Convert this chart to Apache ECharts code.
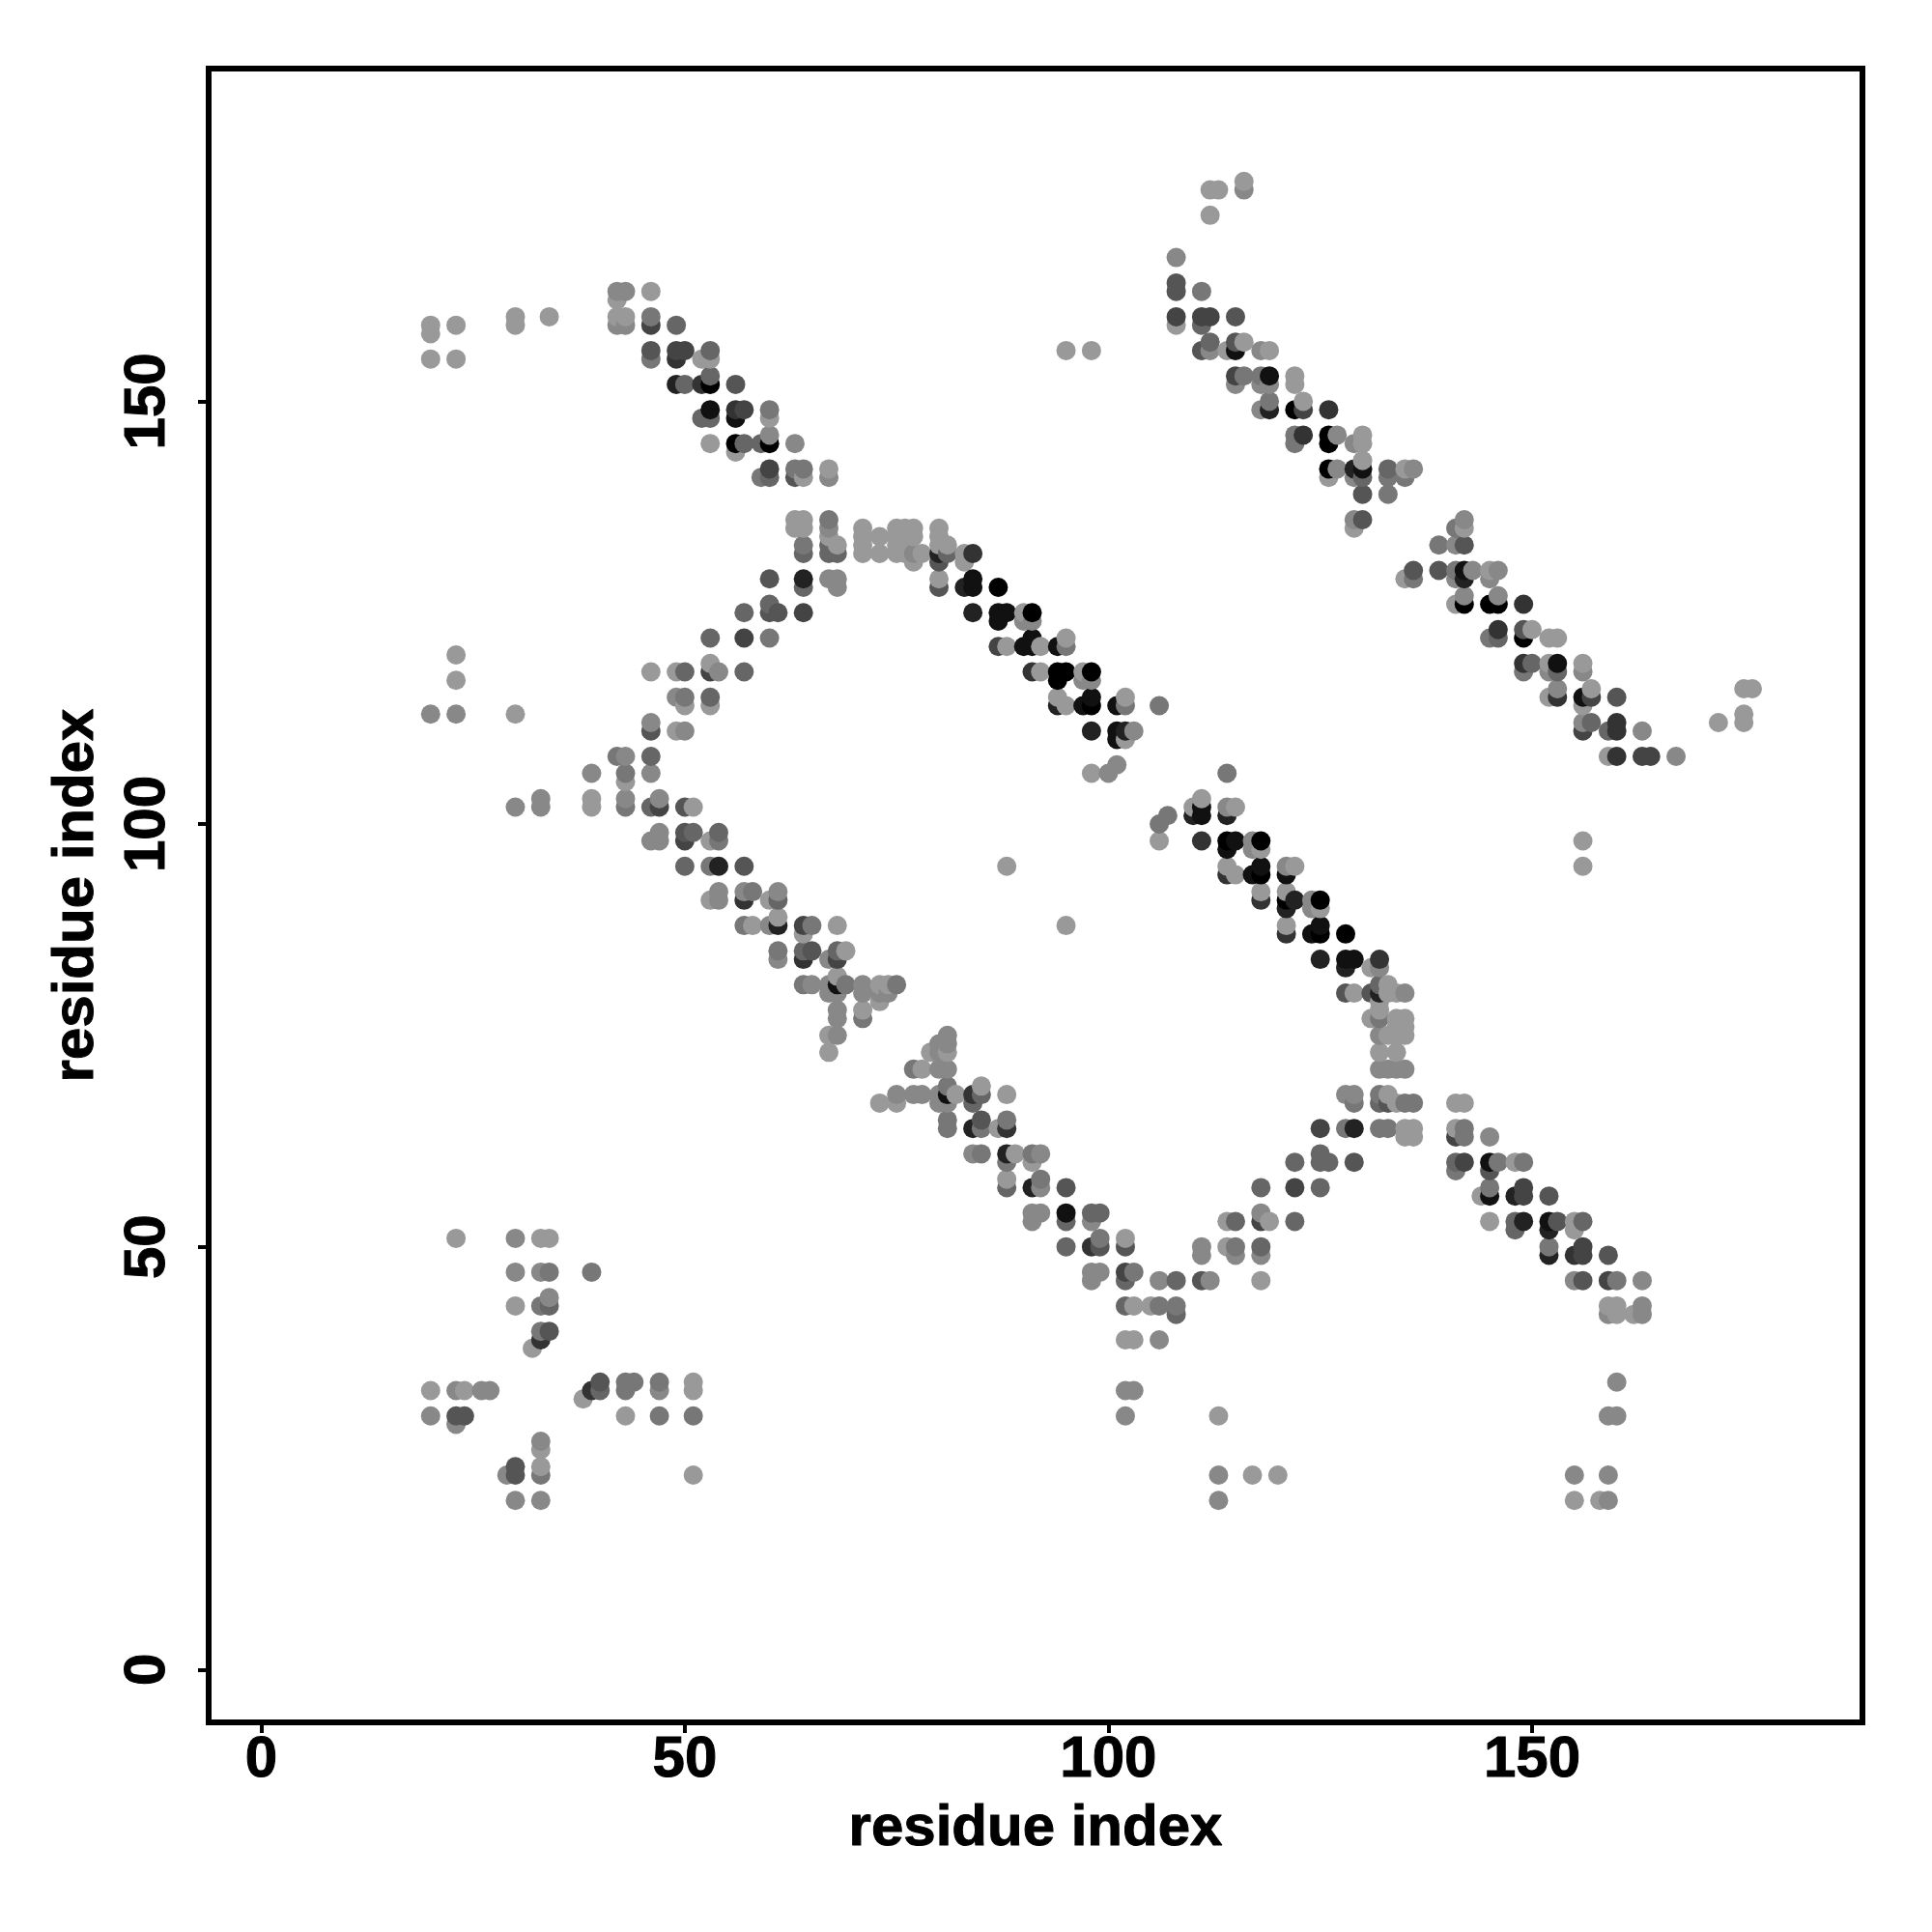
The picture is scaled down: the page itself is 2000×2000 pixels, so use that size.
<!DOCTYPE html>
<html>
<head>
<meta charset="utf-8">
<style>html,body{margin:0;padding:0;background:#fff}#c{width:2000px;height:2000px}</style>
<script src="https://cdn.jsdelivr.net/npm/echarts@6/dist/echarts.min.js"></script>
</head>
<body>
<div id="c"></div>
<script>
// Each contact: [residue x, residue y, strength 0 (faint) .. 9 (strong)]
const axisTitle = 'residue index';
const tickValues = [0, 50, 100, 150];

const farCornerContacts = [
[20,159,0],[20,158,0],[23,159,0],[30,160,0],[30,159,0],[34,160,0],[20,155,0],[23,155,0],
[95,156,0],[98,156,0],[88,95,0],[95,88,0],[156,98,0],[156,95,0],
[172,112,0],[175,113,0],[175,112,0],[175,116,0],[176,116,0],
[23,120,0],[23,117,0],[20,113,1],[23,113,1],[30,113,0],[30,102,1],[33,103,1],[33,102,1],[106,114,2]
];
const upperLeftBand = [
[42,163,1],[43,163,1],[42,162,0],[46,163,0],[42,160,0],[43,160,0],[42,159,1],[43,159,1],[46,160,2],[46,159,5],[49,159,3],
[46,156,4],[46,155,2],[49,156,5],[49,155,6],[50,156,5],[52,155,0],[53,156,3],[53,155,0],
[49,152,7],[50,152,3],[52,152,6],[53,153,3],[53,152,9],[56,152,4],
[53,149,8],[53,148,3],[52,148,3],[56,149,6],[56,148,8],[57,149,5],[60,149,2],[60,148,0],
[53,145,0],[56,145,9],[56,144,0],[57,145,3],[59,145,3],[60,146,1],[60,145,9],[63,145,1],
[59,141,2],[60,142,5],[60,141,3],[63,142,2],[63,141,4],[64,142,2],[64,141,0],[67,142,0],[67,141,1]
];
const midUpperBand = [
[63,136,0],[64,136,0],[63,135,0],[64,135,0],[64,133,2],[64,132,3],
[67,136,2],[67,135,1],[67,134,0],[67,133,3],[67,132,3],[68,133,0],[68,132,3],
[71,135,0],[71,134,0],[71,133,0],[71,132,0],[73,134,0],[73,132,0],
[75,135,0],[76,135,0],[77,135,0],[75,134,0],[76,134,0],[77,134,0],[75,133,0],[75,132,0],[76,132,0],[77,132,1],[77,131,0],[78,132,0],
[80,135,0],[80,134,0],[80,133,0],[80,132,7],[80,131,4],[80,129,0],[80,128,4],[81,133,0],[81,132,3],
[83,132,0],[83,131,0],[83,128,7],[84,132,6],[84,129,8],[84,128,8],[84,125,7],
[87,128,9],[87,125,8],[87,124,8],[87,121,5],[88,125,8],[88,121,0],
[90,125,0],[90,124,1],[90,121,8],[91,125,9],[91,124,1],[91,122,8],[91,121,8],[91,118,6],[92,121,0],[92,118,0],
[94,121,8],[94,118,9],[94,117,9],[94,115,0],[94,114,7],[95,122,0],[95,121,2],[95,118,9],[95,114,0],
[97,118,0],[97,117,1],[97,114,8],[98,118,9],[98,117,1],[98,115,8],[98,114,9],[98,111,7],[98,106,0],
[101,114,8],[102,115,0],[102,114,2],[101,111,8],[101,110,8],[102,111,7],[102,110,0],[103,111,1],[100,106,1],[101,107,1],
[60,129,4],[60,126,3],[60,125,4],[61,125,4],[60,122,2],[64,129,7],[64,128,3],[64,125,5],
[67,129,1],[68,129,1],[68,128,1],[57,125,3],[53,122,3],[57,122,5],
[46,118,0],[49,118,0],[50,118,3],[53,119,0],[53,118,5],[54,118,1],[57,118,3],
[49,115,1],[50,115,2],[50,114,0],[53,115,3],[53,114,0]
];
const midLowerBand = [
[46,112,1],[46,111,4],[49,111,0],[50,111,1],[42,108,2],[43,108,1],[46,108,3],
[39,106,1],[43,106,2],[43,105,0],[46,106,1],[39,103,0],[39,102,0],[43,103,1],[43,102,2],[46,102,3],[47,103,1],[47,102,5],[50,102,4],[51,102,0],
[47,99,1],[46,98,1],[47,98,1],[50,99,4],[50,98,5],[51,99,3],[53,98,0],[54,99,3],[54,98,2],
[50,95,3],[53,95,2],[54,95,7],[57,95,4],
[54,92,1],[53,91,0],[54,91,1],[57,92,1],[57,91,6],[58,92,2],[60,91,0],[61,92,1],[61,91,3],
[57,88,2],[58,88,0],[60,88,1],[61,89,0],[61,88,7],[61,85,2],[61,84,1],
[64,88,5],[65,88,2],[68,88,0],[64,87,0],[64,85,3],[65,85,4],[64,84,6],[68,85,3],[69,85,0],[67,84,1],[68,84,5],
[64,81,2],[65,81,1],[67,81,1],[67,80,1],[68,82,0],[68,81,8],[68,80,1],[69,81,2],
[71,81,1],[71,80,1],[73,81,0],[73,80,1],[73,79,0],[74,81,0],[74,80,1],[75,81,2],
[68,78,1],[68,77,1],[71,78,0],[71,77,2],[67,75,0],[68,75,1],[67,73,0]
];
const lowerCentralBand = [
[81,75,1],[80,74,1],[81,74,1],[79,73,0],[80,73,1],[81,73,0],[77,71,2],[78,71,0],[80,71,1],[81,71,1],
[81,69,2],[85,69,0],[73,67,0],[75,68,1],[75,67,0],[77,68,1],[78,68,1],[80,68,1],[80,67,1],[81,68,8],[81,67,1],[82,68,0],[84,68,6],[84,67,3],[85,68,3],[88,68,0],
[81,65,2],[81,64,2],[84,64,7],[85,65,4],[85,64,2],[87,64,0],[88,65,2],[88,64,6],
[84,61,1],[85,61,2],[88,61,7],[88,60,2],[89,61,0],[91,61,2],[91,60,0],[92,61,1],
[88,58,0],[88,57,3],[91,57,7],[92,58,2],[92,57,1],[95,57,4],
[91,54,1],[91,53,1],[92,54,1],[95,54,8],[95,53,3],[98,54,3],[98,53,1],[99,54,3],
[95,50,3],[98,50,6],[99,51,2],[99,50,4],[102,51,0],[102,50,4],
[98,47,1],[98,46,1],[99,47,1],[102,47,5],[102,46,3],[103,47,2],[106,46,1],[108,46,3],[111,46,4],[112,46,1],[118,46,0],
[102,43,3],[103,43,0],[105,43,0],[106,43,2],[108,43,2],[108,42,3],[102,39,0],[103,39,0],[106,39,1],
[111,50,1],[111,49,1],[114,50,0],[115,50,2],[115,49,1],[118,50,3],[118,49,1],[114,53,0],[115,53,3],[118,54,1],[118,53,5],[119,53,0],[118,57,3]
];
const lowerRightBand = [
[132,71,1],[133,71,1],[134,71,1],[135,71,1],[132,73,0],[134,73,0],
[132,75,1],[133,75,0],[134,75,0],[135,75,0],[134,77,0],[135,77,0],[134,76,0],[135,76,0],[131,77,0],[132,77,2],[132,78,0],
[128,80,4],[129,80,0],[131,80,4],[132,81,3],[132,80,7],[132,79,0],[133,81,0],[133,80,0],[134,80,0],[135,80,1],
[128,68,1],[129,68,1],[129,67,2],[132,68,2],[132,67,3],[133,68,0],[133,67,4],[134,67,0],[135,67,2],[136,67,2],
[125,64,5],[128,64,2],[129,64,7],[132,64,2],[133,64,2],[135,64,0],[136,64,0],[135,63,0],[136,63,0],
[141,67,0],[142,67,0],[141,64,0],[142,64,2],[141,63,5],[142,63,2],[145,63,1],
[122,60,3],[125,61,3],[125,60,3],[126,60,3],[129,60,4],[141,60,3],[141,59,2],[142,60,5],[145,60,8],[145,59,4],[146,60,2],[148,60,0],[149,60,2],
[122,57,5],[125,57,3],[144,56,0],[145,57,2],[145,56,8],[148,56,7],[149,57,5],[149,56,5],[152,56,4],
[122,53,3],[145,53,0],[148,53,3],[148,52,3],[149,53,7],[152,53,8],[152,52,7],[153,53,4],[155,53,0],[155,52,0],[156,53,3],
[152,50,2],[152,49,7],[155,49,6],[156,50,5],[156,49,5],[159,49,4],
[155,46,1],[156,46,4],[159,46,5],[160,46,2],[163,46,1],
[159,43,0],[160,43,0],[159,42,1],[160,42,0],[162,42,0],[163,43,1],[163,42,1]
];
const centralRightBand = [
[106,100,2],[107,101,2],[106,98,0],[110,102,0],[110,101,7],[111,103,0],[111,102,8],[111,101,8],[114,106,2],[114,102,1],[114,101,7],[115,102,0],
[111,98,6],[114,98,9],[114,97,8],[115,98,8],[117,98,1],[117,97,1],[118,98,9],[118,97,0],
[114,95,0],[114,94,6],[115,94,0],[117,94,8],[118,95,8],[118,94,9],[118,92,0],[118,91,6],
[121,95,1],[121,94,8],[122,95,0],[121,92,0],[121,91,9],[121,90,7],[122,91,7],[124,91,1],[124,90,1],[125,91,9],[125,90,0],
[121,88,0],[121,87,6],[124,87,8],[125,88,8],[125,87,9],[128,87,9],[125,84,7],[128,84,8],[128,83,7],[129,84,8],[132,84,6],[132,83,1],[131,83,0]
];
const upperRightBand = [
[112,175,0],[113,175,0],[116,176,0],[116,175,1],[112,172,0],[108,167,1],[108,164,4],[108,163,4],[111,163,2],
[108,160,5],[108,159,0],[111,160,5],[111,159,3],[112,160,5],[115,160,4],
[111,156,4],[112,157,3],[112,156,1],[114,156,0],[115,157,4],[115,156,8],[116,157,0],[118,156,1],[119,156,0],
[115,153,5],[115,152,1],[116,153,2],[118,153,2],[118,152,1],[119,153,8],[119,152,1],[122,153,0],[122,152,0],
[118,149,1],[119,150,2],[119,149,7],[122,149,9],[123,150,0],[123,149,5],[126,149,6],
[122,146,2],[122,145,2],[123,146,6],[126,146,9],[126,145,9],[127,146,1],[129,145,1],[130,146,0],[130,145,0],
[126,142,9],[126,141,0],[127,142,1],[129,142,7],[129,141,1],[130,143,0],[130,142,8],[130,141,3],[130,139,4],[133,142,3],[133,141,2],[133,139,2],[135,142,0],[135,141,2],[136,142,1],
[129,136,1],[129,135,0],[130,136,4],[139,133,2],[141,135,2],[141,133,1],[142,136,1],[142,135,0],[142,133,4]
];
const farRightBand = [
[135,129,0],[136,130,4],[136,129,2],[139,130,4],[141,130,2],[141,129,1],[142,130,8],[142,129,7],[143,130,1],[145,130,0],[145,129,1],[146,130,1],
[141,126,0],[142,127,1],[142,126,9],[145,126,9],[146,127,1],[146,126,9],[149,126,6],
[145,122,2],[146,123,6],[146,122,3],[149,123,4],[149,122,9],[150,123,0],[152,122,0],[153,122,0],
[149,119,6],[149,118,2],[150,119,3],[152,119,0],[152,118,1],[153,119,8],[153,118,3],[156,119,0],[156,118,1],
[152,115,0],[153,116,1],[153,115,6],[156,115,8],[156,114,0],[157,116,0],[157,115,5],[160,115,4],
[156,112,1],[156,111,5],[157,112,3],[159,111,3],[160,112,6],[160,111,6],[163,111,1],
[159,108,0],[160,108,6],[163,108,5],[164,108,5],[167,108,1]
];
const lowerLeftCluster = [
[23,51,0],[30,51,1],[33,51,0],[34,51,0],[30,47,1],[33,47,1],[34,47,2],[39,47,2],
[30,43,0],[33,43,2],[34,44,1],[34,43,3],[33,40,2],[33,39,6],[34,40,4],[32,38,0],
[20,33,0],[23,33,1],[24,33,0],[26,33,1],[27,33,1],[20,30,1],[23,30,4],[23,29,1],[24,30,4],
[38,32,0],[39,33,6],[40,34,4],[40,33,3],[43,34,2],[43,33,2],[44,34,2],[47,34,2],[47,33,1],[51,34,0],[51,33,0],
[43,30,0],[47,30,2],[51,30,2],
[33,27,1],[33,26,0],[33,24,0],[33,23,2],[30,24,4],[30,23,4],[29,23,1],[51,23,0],[30,20,1],[33,20,1]
];
const lowerRightStrays = [
[102,33,1],[103,33,1],[102,30,1],[113,30,0],[113,23,1],[117,23,0],[120,23,0],[113,20,1],
[155,23,1],[159,23,1],[155,20,0],[158,20,0],[159,20,1],[160,34,1],[159,30,1],[160,30,1]
];

const contacts = [].concat(farCornerContacts, upperLeftBand, midUpperBand, midLowerBand, lowerCentralBand,
  lowerRightBand, centralRightBand, upperRightBand, farRightBand, lowerLeftCluster, lowerRightStrays)
  .sort((a, b) => a[0] - b[0] || a[1] - b[1]);

const font = 'Liberation Sans';
function axis(min, max, labelMargin, nameGap, rotate) {
  return {
    type: 'value', min: min, max: max,
    name: axisTitle, nameLocation: 'middle', nameGap: nameGap,
    nameTextStyle: { fontFamily: font, fontWeight: 'bold', fontSize: 60, color: '#000', textBorderColor: '#000', textBorderWidth: 1 },
    splitLine: { show: false },
    axisLine: { show: false, onZero: false },
    axisTick: { show: true, length: 11, customValues: tickValues, lineStyle: { color: '#000', width: 4 } },
    axisLabel: { show: true, customValues: tickValues, margin: labelMargin, rotate: rotate,
      fontFamily: font, fontWeight: 'bold', fontSize: 60, color: '#000', textBorderColor: '#000', textBorderWidth: 1 }
  };
}
const chart = echarts.init(document.getElementById('c'), null, { renderer: 'canvas' });
chart.setOption({
  animation: false,
  backgroundColor: '#fff',
  grid: { show: true, left: 216, top: 71, width: 1712, height: 1712, borderColor: '#000', borderWidth: 6, backgroundColor: 'transparent' },
  xAxis: axis(-6.2, 189.0, 9, 80, 0),
  yAxis: axis(-6.25, 189.35, 33, 107, 90),
  visualMap: { show: false, type: 'continuous', dimension: 2, min: 0, max: 9, seriesIndex: 0, inRange: { color: ['#999999', '#000000'] } },
  series: [{
    type: 'scatter', symbol: 'circle', symbolSize: 20, data: contacts, progressive: 0, large: false,
    itemStyle: { opacity: 1 }, emphasis: { disabled: true }, silent: true
  }]
});
</script>
</body>
</html>
